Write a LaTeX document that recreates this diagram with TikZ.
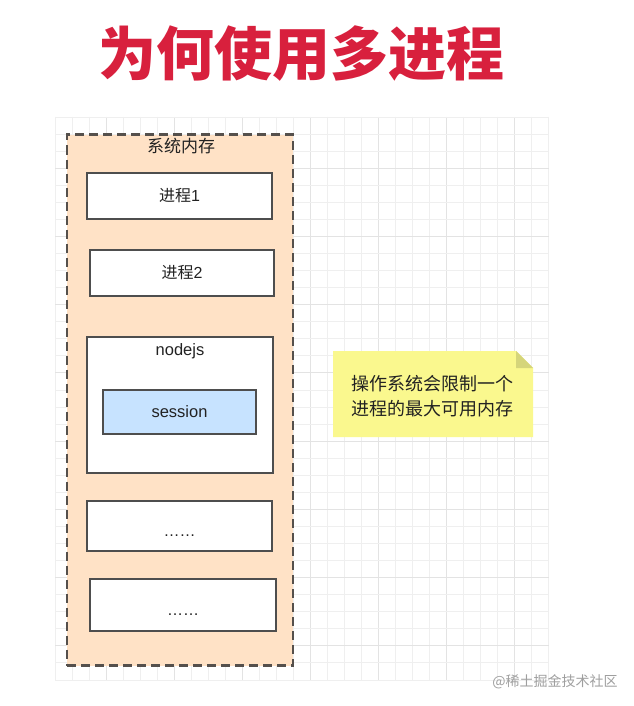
\documentclass[tikz,border=0pt]{standalone}
\usepackage{fontspec}
\setmainfont{Noto Sans CJK SC}
\newfontfamily\latf{Liberation Sans}
\definecolor{titlered}{HTML}{D8203D}
\definecolor{peach}{HTML}{FFE2C6}
\definecolor{edgegray}{HTML}{55504C}
\definecolor{boxedge}{HTML}{4E4E4E}
\definecolor{sessblue}{HTML}{C7E3FF}
\definecolor{noteyellow}{HTML}{FAF88E}
\definecolor{notefold}{HTML}{D5D57A}
\definecolor{gridminor}{HTML}{EFEFEF}
\definecolor{gridmajor}{HTML}{E3E3E3}
\definecolor{textdark}{HTML}{222222}
\newcommand{\lowdots}{\raisebox{-10pt}[0pt][0pt]{\latf ……}}
\begin{document}
\begin{tikzpicture}[x=1pt,y=-1pt,
  outerbox/.style={draw=edgegray, fill=peach, line width=2.8pt, dash pattern=on 9pt off 5pt, inner sep=0pt},
  procbox/.style={draw=boxedge, fill=white, line width=2.4pt, inner sep=0pt, minimum width=185pt, minimum height=46pt, font=\fontsize{16}{19}\selectfont, text=textdark},
  sessbox/.style={draw=boxedge, fill=sessblue, line width=2.4pt, inner sep=0pt, minimum width=153pt, minimum height=44pt, font=\latf\fontsize{16.5}{19}\selectfont, text=textdark},
  lbl/.style={inner sep=0pt, text=textdark},
]
\useasboundingbox (0,0) rectangle (633,706);
\fill[white] (0,0) rectangle (633,706);
% grid
\foreach \i in {0,...,29} {
  \pgfmathsetmacro{\gx}{55+17.03*\i}
  \pgfmathtruncatemacro{\m}{mod(\i,4)==3 ? 1 : 0}
  \ifnum\m=1 \draw[gridmajor, line width=1pt] (\gx,117) -- (\gx,680);
  \else \draw[gridminor, line width=0.9pt] (\gx,117) -- (\gx,680); \fi
}
\foreach \j in {0,...,33} {
  \pgfmathsetmacro{\gy}{117+17.06*\j}
  \pgfmathtruncatemacro{\m}{mod(\j,4)==3 ? 1 : 0}
  \ifnum\m=1 \draw[gridmajor, line width=1pt] (55,\gy) -- (549,\gy);
  \else \draw[gridminor, line width=0.9pt] (55,\gy) -- (549,\gy); \fi
}
% title
\node[inner sep=0pt, text=titlered, font=\fontsize{58}{60}\selectfont\bfseries] (title) at (301,53.5) {为何使用多进程};
% outer memory box
\node[outerbox, minimum width=226pt, minimum height=531pt] (mem) at (180,400) {};
\node[lbl, font=\fontsize{17}{20}\selectfont] (memlabel) at (181,146) {系统内存};
% processes
\node[procbox] (p1) at (179.5,196) {进程\latf 1};
\node[procbox, minimum width=184pt] (p2) at (182,273) {进程\latf 2};
\node[procbox, minimum width=186pt, minimum height=136pt] (nodejs) at (180,405) {};
\node[lbl, font=\latf\fontsize{16.5}{19}\selectfont] (nodejslabel) at (180,351) {nodejs};
\node[sessbox] (sess) at (179.5,412) {session};
\node[procbox, minimum height=50pt] (p3) at (179.5,526) {\lowdots};
\node[procbox, minimum width=186pt, minimum height=52pt] (p4) at (183,605) {\lowdots};
% note
\fill[noteyellow] (333,351) -- (516,351) -- (533,368) -- (533,437) -- (333,437) -- cycle;
\fill[notefold] (516,351) -- (533,368) -- (516,368) -- cycle;
\node[lbl, align=left, anchor=west, font=\fontsize{18}{25}\selectfont] (note) at (351,396) {操作系统会限制一个\\进程的最大可用内存};
% watermark
\node[inner sep=0pt, text=gray!75, font=\fontsize{14}{16}\selectfont] (wm) at (555,682) {@稀土掘金技术社区};
\end{tikzpicture}
\end{document}
